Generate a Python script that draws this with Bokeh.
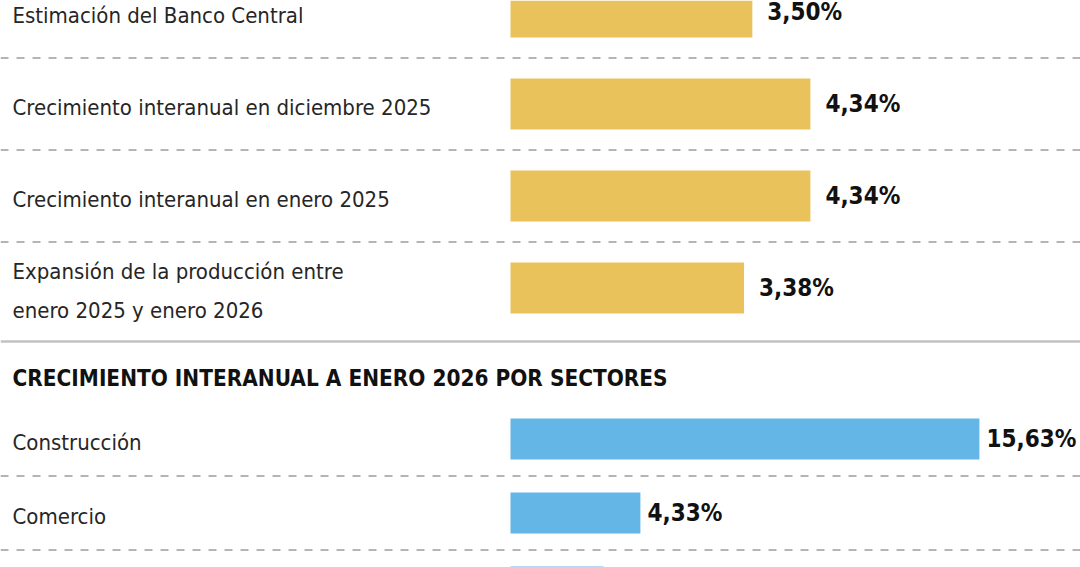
from bokeh.plotting import figure
from bokeh.models import Range1d, ColumnDataSource, Span
from bokeh.core.properties import value
from bokeh.embed import file_html
from bokeh.resources import INLINE

# ---------------- data ----------------
nacional_labels = [
    "Estimación del Banco Central",
    "Crecimiento interanual en diciembre 2025",
    "Crecimiento interanual en enero 2025",
    "Expansión de la producción entre\nenero 2025 y enero 2026",
]
nacional_values = [3.50, 4.34, 4.34, 3.38]
nacional_text = ["3,50%", "4,34%", "4,34%", "3,38%"]

sector_title = "CRECIMIENTO INTERANUAL A ENERO 2026 POR SECTORES"
sector_labels = ["Construcción", "Comercio", ""]
sector_values = [15.63, 4.33, 3.10]
sector_text = ["15,63%", "4,33%", ""]

# ---------------- layout (page pixels) ----------------
W, H = 1080, 567
PAGE_L, PAGE_T = 0, 0
BAR_X0 = 510          # page x where bars start
NAC_PX = 69.1         # px per percentage point (top block)
SEC_PX = 30.0         # px per percentage point (sector block)
NAC_Y0, NAC_PITCH, NAC_H = 11.5, 92, 51
SEC_Y0, SEC_PITCH, SEC_H = 438.5, 74, 41
SEP_Y = 341
TITLE_Y = 377.5
LABEL_X = 12
LABEL_DY = 3

YELLOW = "#E9C25C"
BLUE = "#64B6E6"
DASH = "#9c9c9c"

nac_range = Range1d((PAGE_L - BAR_X0) / NAC_PX, (PAGE_L + W - BAR_X0) / NAC_PX)
sec_range = Range1d((PAGE_L - BAR_X0) / SEC_PX, (PAGE_L + W - BAR_X0) / SEC_PX)
px_range = Range1d(PAGE_L, PAGE_L + W)

p = figure(width=W, height=H, output_backend="svg", toolbar_location=None,
           x_range=nac_range, y_range=Range1d(PAGE_T + H, PAGE_T),
           min_border=0, outline_line_color=None)
p.extra_x_ranges = {"sec": sec_range, "px": px_range}
p.axis.visible = False
p.grid.visible = False
p.background_fill_color = "white"
p.border_fill_color = "white"

nac_y = [NAC_Y0 + NAC_PITCH * i for i in range(len(nacional_values))]
sec_y = [SEC_Y0 + SEC_PITCH * i for i in range(len(sector_values))]

nac_src = ColumnDataSource(dict(y=nac_y, ly=[y + LABEL_DY for y in nac_y], v=nacional_values,
                                lab=nacional_labels, txt=nacional_text, lx=[LABEL_X] * len(nac_y)))
sec_src = ColumnDataSource(dict(y=sec_y, ly=[y + LABEL_DY for y in sec_y], v=sector_values,
                                lab=sector_labels, txt=sector_text, lx=[LABEL_X] * len(sec_y)))

# separators
for i in range(len(nac_y) - 1):
    p.add_layout(Span(location=nac_y[i] + NAC_PITCH / 2, dimension="width",
                      line_color=DASH, line_dash="8 8", line_width=1.5))
for i in range(len(sec_y) - 1):
    p.add_layout(Span(location=sec_y[i] + SEC_PITCH / 2, dimension="width",
                      line_color=DASH, line_dash="8 8", line_width=1.5))
p.add_layout(Span(location=SEP_Y, dimension="width", line_color="#c2c2c2", line_width=2.5))

LABEL_FONT = value("DejaVu Sans Condensed, Roboto, sans-serif")

# top block
p.hbar(y="y", left=0, right="v", height=NAC_H, source=nac_src, color=YELLOW, line_color=None)
p.text(x="lx", y="ly", text="lab", source=nac_src, x_range_name="px",
       text_font=LABEL_FONT, text_font_size="22px", text_color="#262626",
       text_baseline="middle", text_align="left", text_line_height=1.55)
p.text(x="v", y="y", text="txt", source=nac_src, x_offset=15,
       text_font=LABEL_FONT, text_font_style="bold", text_font_size="24px",
       text_color="#111111", text_baseline="middle", text_align="left")

# title
p.text(x=[LABEL_X], y=[TITLE_Y], text=[sector_title], x_range_name="px",
       text_font=LABEL_FONT, text_font_style="bold", text_font_size="22.4px",
       text_color="#111111", text_baseline="middle", text_align="left")

# sector block
p.hbar(y="y", left=0, right="v", height=SEC_H, source=sec_src, color=BLUE, line_color=None,
       x_range_name="sec")
p.text(x="lx", y="ly", text="lab", source=sec_src, x_range_name="px",
       text_font=LABEL_FONT, text_font_size="22px", text_color="#262626",
       text_baseline="middle", text_align="left")
p.text(x="v", y="y", text="txt", source=sec_src, x_range_name="sec", x_offset=7,
       text_font=LABEL_FONT, text_font_style="bold", text_font_size="24px",
       text_color="#111111", text_baseline="middle", text_align="left")

open("out.html", "w").write(file_html(p, INLINE))
